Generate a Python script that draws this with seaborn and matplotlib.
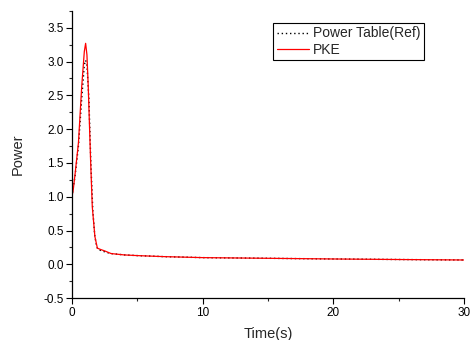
import numpy as np
import pandas as pd
import matplotlib
matplotlib.use("Agg")
import matplotlib.pyplot as plt
import seaborn as sns
from matplotlib.ticker import MultipleLocator

# Data
t_ref = [0.0, 0.25, 0.5, 0.75, 0.95, 1.05, 1.15, 1.3, 1.45, 1.6, 1.75, 1.9, 2.0, 2.3, 2.6, 3.0, 4.0, 5.0, 7.0, 10.0, 15.0, 20.0, 25.0, 30.0]
p_ref = [1.0, 1.32, 1.75, 2.45, 2.95, 3.02, 2.95, 2.45, 1.5, 0.8, 0.42, 0.26, 0.22, 0.2, 0.18, 0.16, 0.14, 0.13, 0.115, 0.1, 0.09, 0.08, 0.072, 0.065]
t_pke = [0.0, 0.1, 0.25, 0.5, 0.75, 0.95, 1.05, 1.15, 1.25, 1.43, 1.56, 1.76, 1.95, 2.2, 2.5, 3.0, 4.0, 5.0, 7.0, 10.0, 15.0, 20.0, 25.0, 30.0]
p_pke = [1.0, 1.1, 1.35, 1.8, 2.63, 3.15, 3.27, 3.1, 2.63, 1.54, 0.85, 0.41, 0.24, 0.22, 0.2, 0.16, 0.14, 0.13, 0.115, 0.1, 0.09, 0.08, 0.072, 0.065]

sns.set_style("ticks")
plt.rcParams['font.family'] = ['Liberation Sans', 'DejaVu Sans']

fig = plt.figure(figsize=(4.7, 3.4), dpi=100)
ax = fig.add_axes([0.153, 0.123, 0.834, 0.845])

df_ref = pd.DataFrame({"t": t_ref, "p": p_ref})
df_pke = pd.DataFrame({"t": t_pke, "p": p_pke})
sns.lineplot(data=df_ref, x="t", y="p", ax=ax, color="black", linestyle=(0, (1, 2)), linewidth=1.0, label="Power Table(Ref)")
sns.lineplot(data=df_pke, x="t", y="p", ax=ax, color="#ff0000", linewidth=0.9, label="PKE")

ax.set_xlim(0, 30)
ax.set_ylim(-0.5, 3.75)
ax.xaxis.set_major_locator(MultipleLocator(10))
ax.xaxis.set_minor_locator(MultipleLocator(5))
ax.yaxis.set_major_locator(MultipleLocator(0.5))
ax.yaxis.set_minor_locator(MultipleLocator(0.25))
ax.set_yticks([-0.5, 0.0, 0.5, 1.0, 1.5, 2.0, 2.5, 3.0, 3.5])
ax.set_yticklabels(["-0.5", "0.0", "0.5", "1.0", "1.5", "2.0", "2.5", "3.0", "3.5"])
ax.tick_params(which="major", direction="out", length=4, width=0.8, labelsize=8.5, colors="black", pad=2)
ax.tick_params(which="minor", direction="out", length=2.5, width=0.8)
for s in ["top", "right"]:
    ax.spines[s].set_visible(False)
for s in ["left", "bottom"]:
    ax.spines[s].set_linewidth(0.9)
    ax.spines[s].set_color("black")

ax.set_xlabel("Time(s)", fontsize=10.5, labelpad=6)
ax.set_ylabel("Power", fontsize=10.5, labelpad=13)

leg = ax.legend(loc="upper right", bbox_to_anchor=(0.898, 0.958), fontsize=10, frameon=True, fancybox=False,
                edgecolor="black", framealpha=1, handlelength=2.3, handletextpad=0.3, borderpad=0.25,
                labelspacing=0.15, borderaxespad=0)
leg.get_frame().set_linewidth(0.8)

fig.savefig("out.png", dpi=100)
